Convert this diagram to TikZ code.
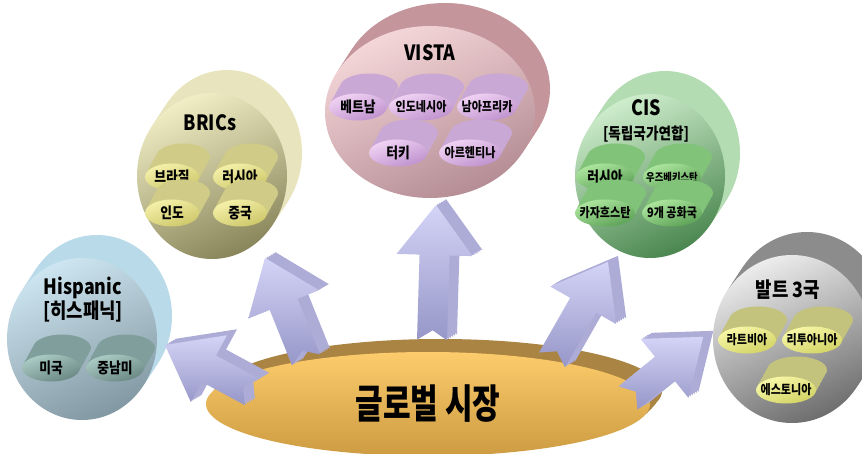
\documentclass[tikz,border=0pt]{standalone}
\usepackage{fontspec}
\newfontfamily\krfont{Noto Sans CJK KR}[FakeStretch=0.85]
\newfontfamily\krwide{Noto Sans CJK KR}[FakeStretch=0.75]
\usetikzlibrary{shapes.geometric}
\definecolor{hispSide}{RGB}{185,218,233}
\definecolor{hispTop}{RGB}{205,229,240}
\definecolor{hispBot}{RGB}{130,152,163}
\definecolor{hispPillSide}{RGB}{128,158,155}
\definecolor{hispPillTop}{RGB}{172,204,198}
\definecolor{hispPillBot}{RGB}{105,135,130}
\definecolor{bricsSide}{RGB}{232,229,190}
\definecolor{bricsTop}{RGB}{240,237,196}
\definecolor{bricsBot}{RGB}{138,134,92}
\definecolor{bricsPillSide}{RGB}{208,204,135}
\definecolor{bricsPillTop}{RGB}{245,241,170}
\definecolor{bricsPillBot}{RGB}{205,199,105}
\definecolor{vistaSide}{RGB}{196,150,156}
\definecolor{vistaTop}{RGB}{245,215,217}
\definecolor{vistaBot}{RGB}{180,140,148}
\definecolor{vistaPillSide}{RGB}{202,168,214}
\definecolor{vistaPillTop}{RGB}{242,212,245}
\definecolor{vistaPillBot}{RGB}{190,145,205}
\definecolor{cisSide}{RGB}{180,220,178}
\definecolor{cisTop}{RGB}{205,236,203}
\definecolor{cisBot}{RGB}{75,135,80}
\definecolor{cisPillSide}{RGB}{130,195,122}
\definecolor{cisPillTop}{RGB}{175,232,160}
\definecolor{cisPillBot}{RGB}{90,160,85}
\definecolor{balticSide}{RGB}{140,140,140}
\definecolor{balticTop}{RGB}{236,236,236}
\definecolor{balticBot}{RGB}{110,110,110}
\definecolor{balticPillSide}{RGB}{195,195,125}
\definecolor{balticPillTop}{RGB}{248,248,170}
\definecolor{balticPillBot}{RGB}{210,210,100}
\definecolor{arrowLight}{RGB}{212,212,247}
\definecolor{arrowDark}{RGB}{150,150,200}
\definecolor{arrowSideCol}{RGB}{172,172,214}
\definecolor{diskSide}{RGB}{169,132,66}
\definecolor{diskTop}{RGB}{252,204,108}
\definecolor{diskBot}{RGB}{205,155,65}
\tikzset{
  % COUNTRY GROUPS
  frameBubble/.style={
    ellipse, inner sep=0pt,
    top color=#1Top, bottom color=#1Bot, shading angle=25,
    preaction={fill=#1Side, transform canvas={shift={(3pt,4.6pt)}}},
    preaction={fill=#1Side, transform canvas={shift={(6pt,9.2pt)}}},
    preaction={fill=#1Side, transform canvas={shift={(9pt,13.8pt)}}},
    preaction={fill=#1Side, transform canvas={shift={(12pt,18.4pt)}}},
    preaction={fill=#1Side, transform canvas={shift={(15pt,23pt)}}}
  },
  % COUNTRIES
  framePill/.style={
    ellipse, inner xsep=-14pt, inner ysep=0pt,
    minimum width=58pt, minimum height=27pt,
    font=\krfont\bfseries\fontsize{15}{16}\selectfont,
    top color=#1PillTop, bottom color=#1PillBot, shading angle=20,
    preaction={fill=#1PillSide, transform canvas={shift={(2.2pt,4pt)}}},
    preaction={fill=#1PillSide, transform canvas={shift={(4.4pt,8pt)}}},
    preaction={fill=#1PillSide, transform canvas={shift={(6.6pt,12pt)}}},
    preaction={fill=#1PillSide, transform canvas={shift={(8.8pt,16pt)}}},
    preaction={fill=#1PillSide, transform canvas={shift={(11pt,20pt)}}}
  },
  longText/.style={font=\krfont\bfseries\fontsize{13}{14}\selectfont},
  % GROUP NAMES
  frameTitle/.style={
    inner sep=0pt, align=center,
    font=\krfont\bfseries\fontsize{21}{24}\selectfont
  },
  % MARKET
  frameMarket/.style={
    ellipse, inner sep=0pt,
    minimum width=444pt, minimum height=104pt,
    font=\krwide\bfseries\fontsize{40}{44}\selectfont,
    top color=diskTop, bottom color=diskBot,
    preaction={fill=diskSide, transform canvas={shift={(4pt,4pt)}}},
    preaction={fill=diskSide, transform canvas={shift={(8pt,8pt)}}},
    preaction={fill=diskSide, transform canvas={shift={(12pt,13pt)}}}
  },
  % ARROWS
  arrowSide/.style={fill=arrowSideCol},
  lineArrow/.style={top color=arrowLight, bottom color=arrowDark}
}
% block arrow: tail, angle, length
\newcommand{\blockArrow}[3]{%
  \foreach \s in {5,4,3,2,1}{
    \fill [arrowSide, shift={(2*\s,-1.2*\s)}, shift={#1}, rotate=#2]
      (0,15) -- ({#3-50},15) -- ({#3-50},38) -- (#3,0) -- ({#3-50},-38)
      -- ({#3-50},-15) -- (0,-15) -- (10,0) -- cycle;
  }
  \path [lineArrow, shift={#1}, rotate=#2]
      (0,15) -- ({#3-50},15) -- ({#3-50},38) -- (#3,0) -- ({#3-50},-38)
      -- ({#3-50},-15) -- (0,-15) -- (10,0) -- cycle;
}

\begin{document}
\begin{tikzpicture}[x=1pt,y=-1pt,font=\krfont\bfseries]
\path [use as bounding box, fill=white] (0,0) rectangle (862,454);

% Country groups
\node [frameBubble=hisp, minimum width=150pt, minimum height=162pt] (bubble_hisp) at (82,339) {};
\node [frameBubble=brics, minimum width=150pt, minimum height=166pt] (bubble_brics) at (212,176) {};
\node [frameBubble=vista, minimum width=210pt, minimum height=172pt] (bubble_vista) at (430,112) {};
\node [frameBubble=cis, minimum width=150pt, minimum height=164pt] (bubble_cis) at (650,176) {};
\node [frameBubble=baltic, minimum width=158pt, minimum height=168pt] (bubble_baltic) at (792,339) {};

% Group names
\node [frameTitle] (title_hisp) at (83,300) {Hispanic\\{[}히스패닉{]}};
\node [frameTitle] (title_brics) at (210,123) {BRICs};
\node [frameTitle] (title_vista) at (430,53) {VISTA};
\node [frameTitle] (title_cis) at (646,121) {CIS\\{\fontsize{16}{18}\selectfont{[}독립국가연합{]}}};
\node [frameTitle] (title_baltic) at (788,290) {발트 3국};

% Countries
\node [framePill=hisp] (pill_usa) at (51,368) {미국};
\node [framePill=hisp] (pill_latam) at (115,368) {중남미};

\node [framePill=brics, minimum width=54pt] (pill_brazil) at (172,177) {브라질};
\node [framePill=brics, minimum width=54pt] (pill_russia) at (240,177) {러시아};
\node [framePill=brics, minimum width=54pt] (pill_india) at (172,213) {인도};
\node [framePill=brics, minimum width=54pt] (pill_china) at (240,213) {중국};

\node [framePill=vista] (pill_vietnam) at (358,107) {베트남};
\node [framePill=vista, longText, minimum width=64pt] (pill_indonesia) at (421,107) {인도네시아};
\node [framePill=vista, longText, minimum width=60pt] (pill_safrica) at (487,107) {남아프리카};
\node [framePill=vista] (pill_turkey) at (398,153) {터키};
\node [framePill=vista, longText, minimum width=62pt] (pill_argentina) at (470,153) {아르헨티나};

\node [framePill=cis] (pill_russia2) at (605,177) {러시아};
\node [framePill=cis, font=\krfont\bfseries\fontsize{11}{12}\selectfont] (pill_uzbek) at (672,177) {우즈베키스탄};
\node [framePill=cis, longText, minimum width=60pt] (pill_kazakh) at (605,213) {카자흐스탄};
\node [framePill=cis, longText, minimum width=60pt] (pill_nine) at (672,213) {9개 공화국};

\node [framePill=baltic, longText] (pill_latvia) at (747,340) {라트비아};
\node [framePill=baltic, longText, minimum width=60pt] (pill_lithuania) at (812,340) {리투아니아};
\node [framePill=baltic, longText, minimum width=60pt] (pill_estonia) at (786,390) {에스토니아};

% Global market
\node [frameMarket] (market) at (428,404) {글로벌 시장};

% Arrows to the groups
\blockArrow{(252,392)}{151.6}{99}
\blockArrow{(306,360)}{111.9}{110}
\blockArrow{(432,340)}{88.3}{135}
\blockArrow{(552,360)}{60.3}{113}
\blockArrow{(628,398)}{39.1}{97}

\end{tikzpicture}
\end{document}
